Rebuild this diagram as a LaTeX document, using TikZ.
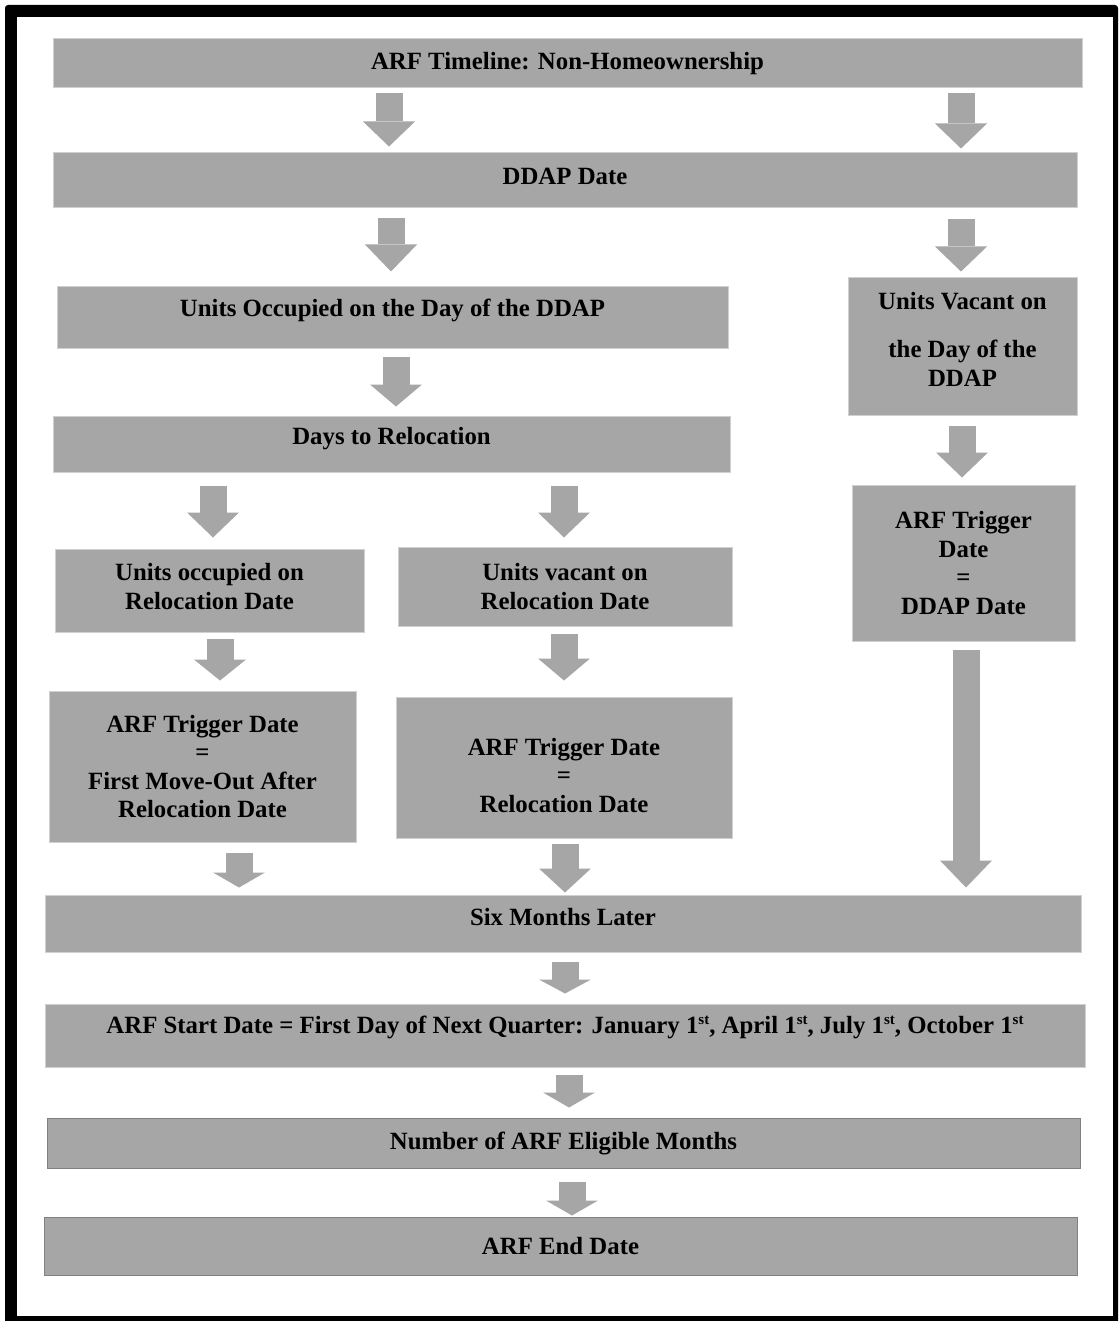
\documentclass[tikz,border=0pt]{standalone}
\usepackage{fontspec}
\setmainfont{Liberation Serif}
\usetikzlibrary{arrows.meta}
\definecolor{boxgray}{HTML}{A6A6A6}
\definecolor{boxedge}{HTML}{D0D0D0}
\definecolor{boxdark}{HTML}{808080}
\newcommand{\ordst}{\raisebox{9pt}{\fontsize{15pt}{15pt}\selectfont st}}
\begin{document}
\begin{tikzpicture}[x=1pt, y=-1pt,
    font=\bfseries\fontsize{24.8pt}{28.6pt}\selectfont,
    box/.style={fill=boxgray, draw=boxedge, line width=1pt, align=center, inner sep=0pt},
    dbox/.style={box, draw=boxdark},
    blk/.style={color=boxgray, line width=27pt, -{Triangle[length=#1, width=52pt, line width=0pt]}},
    blk/.default=25pt]
  \useasboundingbox (0,0) rectangle (1119,1321);
  % frame
  \fill[black, rounded corners=3pt] (5,5) rectangle (1118,1330);
  \fill[white] (17,17) rectangle (1113,1316);

  \node[box, minimum width=1029pt, minimum height=49pt] (title) at (567.5,63.5) {ARF Timeline: Non-Homeownership};
  \node[box, minimum width=1024pt, minimum height=55pt, text depth=9pt] (ddap) at (565,180.5) {DDAP Date};
  \node[box, minimum width=671pt, minimum height=61pt, text depth=19pt] (occday) at (392.5,317.5) {Units Occupied on the Day of the DDAP};
  \node[box, minimum width=229pt, minimum height=137pt] (vacday) at (962.5,346.5) {Units Vacant on\\[20pt] the Day of the\\ DDAP\rule[-15pt]{0pt}{15pt}};
  \node[box, minimum width=677pt, minimum height=56pt, text depth=16pt] (days) at (391.5,444) {Days to Relocation};
  \node[box, minimum width=309pt, minimum height=83pt] (occrel) at (209.5,590.5) {Units occupied on\\ Relocation Date\rule[-8pt]{0pt}{8pt}};
  \node[box, minimum width=334pt, minimum height=79pt] (vacrel) at (565,586.5) {Units vacant on\\ Relocation Date};
  \node[box, minimum width=307pt, minimum height=151pt] (trigocc) at (202.5,766.5) {ARF Trigger Date\\ =\\ First Move-Out After\\ Relocation Date};
  \node[box, minimum width=336pt, minimum height=141pt] (trigvac) at (564,767.5) {\rule{0pt}{33pt}ARF Trigger Date\\ =\\ Relocation Date};
  \node[box, minimum width=223pt, minimum height=156pt] (trigddap) at (963.5,563) {ARF Trigger\\ Date\\ =\\ DDAP Date};
  \node[box, minimum width=1036pt, minimum height=57pt, text depth=14pt] (six) at (563,923.5) {Six Months Later};
  \node[box, minimum width=1040pt, minimum height=63pt, text depth=22pt] (start) at (565,1035.5) {ARF Start Date = First Day of Next Quarter: January 1\ordst, April 1\ordst, July 1\ordst, October 1\ordst};
  \node[dbox, minimum width=1033pt, minimum height=50pt] (months) at (563.5,1143) {Number of ARF Eligible Months};
  \node[dbox, minimum width=1033pt, minimum height=58pt] (endd) at (560.5,1246) {ARF End Date};

  % arrow columns
  \coordinate (k1) at (389,0);
  \coordinate (k2) at (961,0);
  \coordinate (k3) at (391,0);
  \coordinate (k5) at (396,0);
  \coordinate (k6) at (962,0);
  \coordinate (k7) at (213,0);
  \coordinate (k8) at (564,0);
  \coordinate (k9) at (220,0);
  \coordinate (k11) at (239,0);
  \coordinate (k12) at (565,0);
  \coordinate (k13) at (966,0);
  \coordinate (k15) at (569,0);
  \coordinate (k16) at (572,0);

  \draw[blk, shorten <=5pt, shorten >=6pt] (title.south -| k1) -- (ddap.north -| k1);
  \draw[blk, shorten <=5pt, shorten >=4pt] (title.south -| k2) -- (ddap.north -| k2);
  \draw[blk=27pt, shorten <=10pt, shorten >=15pt] (ddap.south -| k3) -- (occday.north -| k3);
  \draw[blk, shorten <=11pt, shorten >=6pt] (ddap.south -| k2) -- (vacday.north -| k2);
  \draw[blk=22pt, shorten <=8pt, shorten >=9pt] (occday.south -| k5) -- (days.north -| k5);
  \draw[blk, shorten <=10pt, shorten >=7pt] (vacday.south -| k6) -- (trigddap.north -| k6);
  \draw[blk, shorten <=13pt, shorten >=11pt] (days.south -| k7) -- (occrel.north -| k7);
  \draw[blk, shorten <=13pt, shorten >=9pt] (days.south -| k8) -- (vacrel.north -| k8);
  \draw[blk=21pt, shorten <=6pt, shorten >=10pt] (occrel.south -| k9) -- (trigocc.north -| k9);
  \draw[blk=22pt, shorten <=7pt, shorten >=16pt] (vacrel.south -| k8) -- (trigvac.north -| k8);
  \draw[blk=15pt, shorten <=10pt, shorten >=7pt] (trigocc.south -| k11) -- (six.north -| k11);
  \draw[blk=24pt, shorten <=5pt, shorten >=2pt] (trigvac.south -| k12) -- (six.north -| k12);
  \draw[blk=27pt, shorten <=8pt, shorten >=7pt] (trigddap.south -| k13) -- (six.north -| k13);
  \draw[blk=14pt, shorten <=9pt, shorten >=10pt] (six.south -| k12) -- (start.north -| k12);
  \draw[blk=15pt, shorten <=7pt, shorten >=10pt] (start.south -| k15) -- (months.north -| k15);
  \draw[blk=15pt, shorten <=13pt, shorten >=1pt] (months.south -| k16) -- (endd.north -| k16);
\end{tikzpicture}
\end{document}
